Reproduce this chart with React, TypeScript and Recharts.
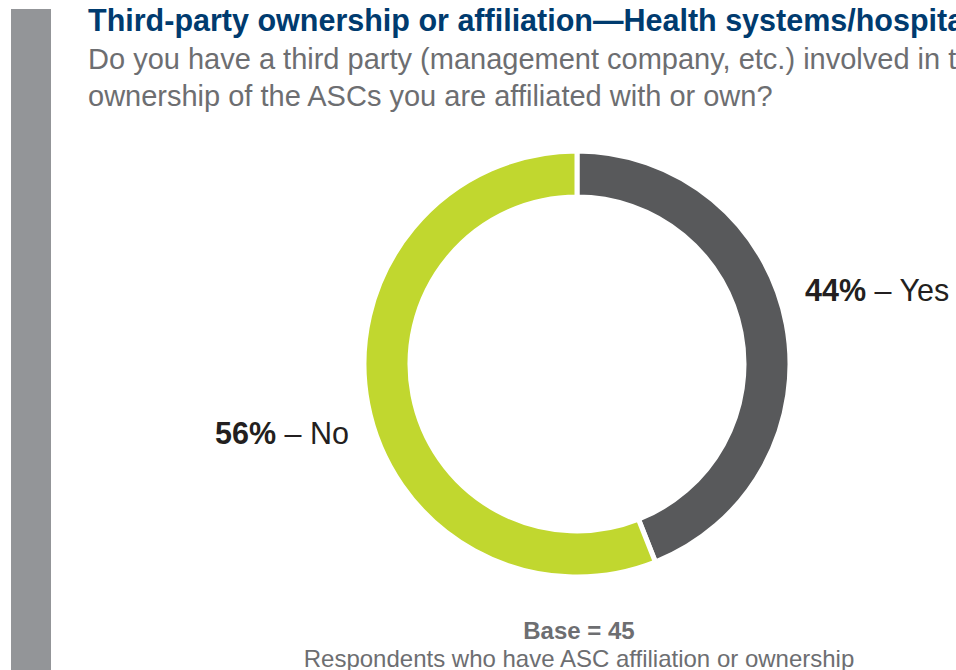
import React from 'react';
import { PieChart, Pie, Cell } from 'recharts';

const answers = ['Yes', 'No'];
const shares = [44, 56];
const sliceColors = ['#58595b', '#c1d72f'];

const data = answers.map((name, i) => ({ name, value: shares[i] }));

const FONT = '"Liberation Sans", Arial, Helvetica, sans-serif';
const RAD = Math.PI / 180;

// label beside the ring, bold % then the answer
const renderLabel = (props: any) => {
  const { cx, cy, midAngle, outerRadius, payload } = props;
  const right = Math.cos(-midAngle * RAD) >= 0;
  const x = cx + (right ? outerRadius + 15 : -(outerRadius + 15));
  const y = right ? cy - outerRadius * 0.346 : cy + outerRadius * 0.324;
  return (
    <text
      x={x}
      y={y}
      textAnchor={right ? 'start' : 'end'}
      dominantBaseline="central"
      fontFamily={FONT}
      fontSize={30.5}
      fill="#231f20"
    >
      <tspan fontWeight="bold">{payload.value}%</tspan>
      <tspan fontWeight="normal"> – {payload.name}</tspan>
    </text>
  );
};

const App: React.FC = () => {
  return (
    <div
      style={{
        position: 'fixed',
        left: 0,
        top: 0,
        width: 956,
        height: 670,
        overflow: 'hidden',
        background: '#fff',
        fontFamily: FONT,
      }}
    >
      <div style={{ position: 'absolute', left: 11, top: 9, width: 40, height: 661, background: '#939598' }} />
      <div
        style={{
          position: 'absolute',
          left: 88,
          top: 2,
          whiteSpace: 'nowrap',
          fontSize: 30.5,
          fontWeight: 'bold',
          color: '#003b6f',
          lineHeight: '36px',
        }}
      >
        Third-party ownership or affiliation—Health systems/hospitals
      </div>
      <div
        style={{
          position: 'absolute',
          left: 88,
          top: 41,
          whiteSpace: 'nowrap',
          fontSize: 29,
          color: '#6d6e71',
          lineHeight: '37px',
        }}
      >
        Do you have a third party (management company, etc.) involved in the
        <br />
        ownership of the ASCs you are affiliated with or own?
      </div>
      <div style={{ position: 'absolute', left: 0, top: 0 }}>
        <PieChart width={956} height={670}>
          <Pie
            data={data}
            dataKey="value"
            nameKey="name"
            cx={572}
            cy={359}
            outerRadius={213}
            innerRadius={167}
            startAngle={90}
            endAngle={-270}
            stroke="#ffffff"
            strokeWidth={5}
            label={renderLabel}
            labelLine={false}
            isAnimationActive={false}
          >
            {data.map((d, i) => (
              <Cell key={d.name} fill={sliceColors[i]} />
            ))}
          </Pie>
        </PieChart>
      </div>
      <div
        style={{
          position: 'absolute',
          left: 0,
          width: 1158,
          top: 617,
          textAlign: 'center',
          color: '#6d6e71',
          fontSize: 24,
          lineHeight: '28px',
        }}
      >
        <div style={{ fontWeight: 'bold' }}>Base = 45</div>
        <div>Respondents who have ASC affiliation or ownership</div>
      </div>
    </div>
  );
};

export default App;
